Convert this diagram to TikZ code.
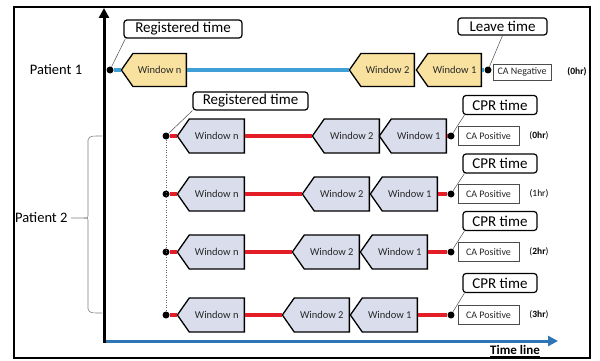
\documentclass[tikz,border=0pt]{standalone}
\usepackage{fontspec}
\setmainfont{Carlito}
\usetikzlibrary{shapes.symbols,arrows.meta}
\definecolor{winyellow}{RGB}{249,226,160}
\definecolor{wingray}{RGB}{218,222,236}
\definecolor{lineblue}{RGB}{62,160,215}
\definecolor{axisblue}{RGB}{46,117,182}
\definecolor{linered}{RGB}{228,30,38}

\begin{document}
\begin{tikzpicture}[x=1pt,y=-1pt,
  win/.style={signal,signal to=west,signal pointer angle=110,draw=black,line width=1.3pt,inner sep=0pt,minimum height=34pt,minimum width=67pt,font=\fontsize{10.5}{12}\selectfont,text=black!85},
  winA/.style={win,fill=winyellow,minimum height=33pt,minimum width=65pt},
  winB/.style={win,fill=wingray},
  tdot/.style={circle,fill=black,inner sep=0pt,minimum size=7pt},
  timebox/.style={draw=black,line width=1.2pt,rounded corners=3pt,inner sep=0pt,minimum height=18pt,font=\fontsize{15}{18}\selectfont},
  cabox/.style={draw=black!70,line width=0.6pt,inner sep=0pt,minimum width=61pt,minimum height=19pt,font=\fontsize{10}{12}\selectfont,text=black!85},
  hrlab/.style={font=\fontsize{9.5}{11}\selectfont},
  leader/.style={black!70,line width=0.5pt},
  redline/.style={linered,line width=4pt},
  blueline/.style={lineblue,line width=4pt}]
\useasboundingbox (0,0) rectangle (600,361);
\draw[line width=2pt] (14,7) rectangle (590,358);

% axes
\coordinate (O) at (104,341);
\coordinate (Ytop) at (104,8);
\coordinate (Xend) at (558,341);
\draw[axisblue,line width=3pt,-{Triangle[length=10pt,width=10pt]}] ([xshift=-1.5pt]O) -- (Xend);
\draw[line width=3pt,-{Triangle[length=10pt,width=10pt]}] ([yshift=-1.5pt]O) -- (Ytop);
\node[font=\bfseries\fontsize{13}{15}\selectfont] (tl) at (515,351) {\underline{Time line}};

\node[font=\fontsize{14.5}{17}\selectfont] (p1) at (56,70) {Patient 1};
\node[font=\fontsize{14.5}{17}\selectfont,anchor=east] (p2) at (71,218) {Patient 2};
\draw[black!50,line width=0.6pt] (102,136) .. controls (90,136) .. (88,140) -- (88,214)
  .. controls (88,218) .. (84,218) -- (p2.east);
\draw[black!50,line width=0.6pt] (84,218) .. controls (88,218) .. (88,222) -- (88,309)
  .. controls (90,313) .. (102,313);

% patient 1
\node[tdot] (Al) at (110,70) {};
\node[winA,anchor=east] (An) at (187,70) {Window n};
\node[winA,anchor=east] (A2) at (415,70) {Window 2};
\node[winA,anchor=east] (A1) at (482,70) {Window 1};
\node[tdot] (Ar) at (488,70) {};
\node[cabox,minimum width=58pt,minimum height=16pt] (Aca) at (522,72) {CA Negative};
\node[hrlab] (Ahr) at (577,72) {\textbf{(0hr)}};
\node[timebox,minimum width=118pt] (Areg) at (183,29) {Registered time};
\node[timebox,minimum width=89pt,minimum height=17pt] (Alv) at (502.5,26.5) {Leave time};

\draw[blueline] (Al) -- (An.west);
\draw[blueline] (An.east) -- (A2.west);
\draw[blueline] (A1.east) -- (Ar);
\draw[leader] ([xshift=2pt]Areg.south west) -- (Al);
\draw[leader] (Alv.south) -- (Ar);

% patient 2
\node[timebox,minimum width=115pt] (Breg) at (250.5,101) {Registered time};

\node[tdot] (Bl) at (166,136) {};
\node[winB,anchor=east] (Bn) at (245,136) {Window n};
\node[winB,anchor=east] (B2) at (380,136) {Window 2};
\node[winB,anchor=east] (B1) at (447,136) {Window 1};
\node[tdot] (Br) at (451,136) {};
\node[cabox] (Bca) at (488.5,136) {CA Positive};
\node[hrlab] (Bhr) at (539,136) {(\textbf{0hr})};
\node[timebox,minimum width=74pt,minimum height=19pt] (Bcpr) at (500,105) {CPR time};

\node[tdot] (Cl) at (166,194) {};
\node[winB,anchor=east] (Cn) at (245,194) {Window n};
\node[winB,anchor=east] (C2) at (370,194) {Window 2};
\node[winB,anchor=east] (C1) at (438,194) {Window 1};
\node[tdot] (Cr) at (451,194) {};
\node[cabox] (Cca) at (488.5,194) {CA Positive};
\node[hrlab] (Chr) at (539,194) {(1hr)};
\node[timebox,minimum width=74pt,minimum height=19pt] (Ccpr) at (500,163.5) {CPR time};

\node[tdot] (Dl) at (166,252) {};
\node[winB,anchor=east] (Dn) at (245,252) {Window n};
\node[winB,anchor=east] (D2) at (360,252) {Window 2};
\node[winB,anchor=east] (D1) at (428,252) {Window 1};
\node[tdot] (Dr) at (451,252) {};
\node[cabox] (Dca) at (488.5,252) {CA Positive};
\node[hrlab] (Dhr) at (539,252) {(\textbf{2hr})};
\node[timebox,minimum width=74pt,minimum height=19pt] (Dcpr) at (500,221) {CPR time};

\node[tdot] (El) at (166,315) {};
\node[winB,anchor=east] (En) at (245,315) {Window n};
\node[winB,anchor=east] (E2) at (350,315) {Window 2};
\node[winB,anchor=east] (E1) at (418,315) {Window 1};
\node[tdot] (Er) at (451,315) {};
\node[cabox] (Eca) at (488.5,315) {CA Positive};
\node[hrlab] (Ehr) at (539,315) {(\textbf{3hr})};
\node[timebox,minimum width=74pt,minimum height=19pt] (Ecpr) at (500,283) {CPR time};

\draw[black!60,line width=0.5pt,dotted] (Bl) -- (El);
\draw[leader] (Breg.south west) -- (Bl);

\draw[redline] (Bl) -- (Bn.west);
\draw[redline] (Bn.east) -- (B2.west);
\draw[redline] (B1.east) -- (Br);
\draw[leader] ([xshift=2pt]Bcpr.south west) -- (Br);

\draw[redline] (Cl) -- (Cn.west);
\draw[redline] (Cn.east) -- (C2.west);
\draw[redline] (C1.east) -- (Cr);
\draw[leader] ([xshift=2pt]Ccpr.south west) -- (Cr);

\draw[redline] (Dl) -- (Dn.west);
\draw[redline] (Dn.east) -- (D2.west);
\draw[redline] (D1.east) -- (Dr);
\draw[leader] ([xshift=2pt]Dcpr.south west) -- (Dr);

\draw[redline] (El) -- (En.west);
\draw[redline] (En.east) -- (E2.west);
\draw[redline] (E1.east) -- (Er);
\draw[leader] ([xshift=2pt]Ecpr.south west) -- (Er);

\end{tikzpicture}
\end{document}
